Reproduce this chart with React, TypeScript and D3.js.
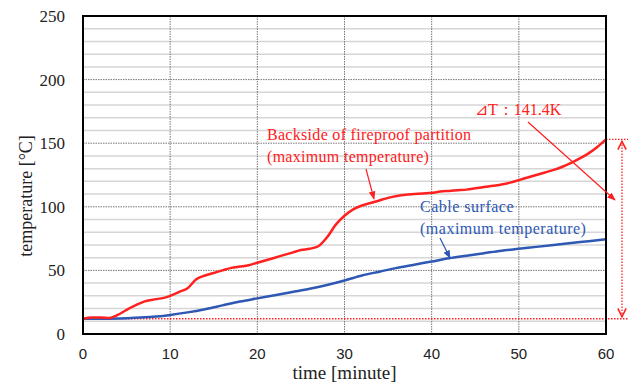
import React from "react";
import * as d3 from "d3";

const redTimes = [0,1,2,3,4,5,6,7,8,9,10,11,12,13,14,15,16,17,18,19,20,21,22,23,24,25,26,27,28,29,30,31,32,33,34,35,36,37,38,39,40,41,42,43,44,45,46,47,48,49,50,51,52,53,54,55,56,57,58,59,60];
const redValues = [12,13,13,12.5,15,19,22.5,25.5,27,28,30,33,36,43,46,48,50,52,53,54,56,58,60,62,64,66,67,69,76,86,93,98,101,103,105,107,108.5,109.5,110,110.5,111,112,112.5,113,113.5,114.5,115.5,116.5,117.5,119,121,123,125,127,129,131.5,134.5,138,142,147,153];
const blueTimes = [0,2,4,6,8,10,12,14,16,18,20,22,24,26,28,30,32,34,36,38,40,42,44,46,48,50,52,54,56,58,60];
const blueValues = [12,12,12.2,12.8,13.5,15,17,19.5,22.5,25.5,28,30.5,33,35.5,38.5,42,46,49,52,54.5,57,59.5,61.5,63.5,65.5,67,68.5,70,71.5,73,74.5];
const xTicks = [0,10,20,30,40,50,60];
const yTicks = [0,50,100,150,200,250];
const yMinor = [10,20,30,40,60,70,80,90,110,120,130,140,160,170,180,190,210,220,230,240];
const ambient = 12;
const peak = 153;
const redLabel = ["Backside of fireproof partition", "(maximum temperature)"];
const blueLabel = ["Cable surface", "(maximum temperature)"];
const deltaLabel = "⊿T：141.4K";

const W = 641, H = 387;
const L = 83, R = 606, T = 16, B = 334;
const RED = "#ff2020";
const BLUE = "#2e58b4";
const SERIF = "'Liberation Serif', 'Times New Roman', serif";
const SANS = "'Liberation Sans', Arial, sans-serif";

export default function App() {
  const x = d3.scaleLinear().domain([0, 60]).range([L, R]);
  const y = d3.scaleLinear().domain([0, 250]).range([B, T]);
  const line = d3.line<number>().curve(d3.curveMonotoneX);
  const redPath = line(redTimes.map((t, i) => [x(t), y(redValues[i])] as any) as any);
  const bluePath = line(blueTimes.map((t, i) => [x(t), y(blueValues[i])] as any) as any);
  const arrowX = R + 16;
  return (
    <svg width={W} height={H} style={{ position: "absolute", left: 0, top: 0, background: "#fff" }}>
      <defs>
        <marker id="redHead" viewBox="0 0 10 10" refX="9" refY="5" markerWidth="7" markerHeight="7" orient="auto">
          <path d="M0,1 L10,5 L0,9 Z" fill={RED} />
        </marker>
        <marker id="blueHead" viewBox="0 0 10 10" refX="9" refY="5" markerWidth="7" markerHeight="7" orient="auto">
          <path d="M0,1 L10,5 L0,9 Z" fill={BLUE} />
        </marker>
        <marker id="openHead" viewBox="0 0 10 10" refX="9" refY="5" markerWidth="8" markerHeight="8" orient="auto-start-reverse">
          <path d="M1,1 L9,5 L1,9" fill="none" stroke={RED} strokeWidth="1.5" />
        </marker>
      </defs>
      {yMinor.map((v) => (
        <line key={"m" + v} x1={L} x2={R} y1={y(v)} y2={y(v)} stroke="#d6d6d6" strokeWidth={1.5} />
      ))}
      {yTicks.slice(1, -1).map((v) => (
        <line key={"h" + v} x1={L} x2={R} y1={y(v)} y2={y(v)} stroke="#555" strokeWidth={0.8} strokeDasharray="1.5,1" />
      ))}
      {xTicks.slice(1, -1).map((v) => (
        <line key={"v" + v} x1={x(v)} x2={x(v)} y1={T} y2={B} stroke="#555" strokeWidth={0.8} strokeDasharray="1.5,1" />
      ))}
      <line x1={L} x2={arrowX + 6} y1={y(ambient)} y2={y(ambient)} stroke={RED} strokeWidth={1.3} strokeDasharray="1.5,1.5" />
      <line x1={R} x2={arrowX + 6} y1={y(peak)} y2={y(peak)} stroke={RED} strokeWidth={1.3} strokeDasharray="1.5,1.5" />
      <line x1={arrowX} x2={arrowX} y1={y(peak) + 2} y2={y(ambient) - 2} stroke={RED} strokeWidth={1.3} strokeDasharray="1.5,1.5" markerStart="url(#openHead)" markerEnd="url(#openHead)" />
      <path d={bluePath || ""} fill="none" stroke={BLUE} strokeWidth={2.5} />
      <path d={redPath || ""} fill="none" stroke={RED} strokeWidth={2.5} />
      <rect x={L} y={T} width={R - L} height={B - T} fill="none" stroke="#000" strokeWidth={2} />
      {yTicks.map((v) => (
        <text key={"yt" + v} x={L - 18} y={y(v) + 6} textAnchor="end" fontFamily={SERIF} fontSize={17} fill="#222">{v}</text>
      ))}
      {xTicks.map((v) => (
        <text key={"xt" + v} x={x(v)} y={359} textAnchor="middle" fontFamily={SANS} fontSize={15} fill="#222">{v}</text>
      ))}
      <text x={(L + R) / 2} y={379} textAnchor="middle" fontFamily={SERIF} fontSize={19} fill="#222">time [minute]</text>
      <text transform={`translate(32,196) rotate(-90)`} textAnchor="middle" fontFamily={SERIF} fontSize={18} fill="#222">temperature [°C]</text>
      <text fontFamily={SERIF} fontSize={16} letterSpacing={0.3} fill={RED}>
        <tspan x={267} y={140}>{redLabel[0]}</tspan>
        <tspan x={267} y={162}>{redLabel[1]}</tspan>
      </text>
      <line x1={366} y1={169} x2={374} y2={199} stroke={RED} strokeWidth={1.2} markerEnd="url(#redHead)" />
      <text fontFamily={SERIF} fontSize={16} letterSpacing={0.5} fill={BLUE}>
        <tspan x={420} y={212}>{blueLabel[0]}</tspan>
        <tspan x={420} y={234}>{blueLabel[1]}</tspan>
      </text>
      <line x1={440} y1={238} x2={450} y2={258} stroke={BLUE} strokeWidth={1.2} markerEnd="url(#blueHead)" />
      <text x={475} y={115} fontFamily={SERIF} fontSize={16} fill={RED}>{deltaLabel}</text>
      <line x1={528} y1={122} x2={615} y2={200} stroke={RED} strokeWidth={1.2} markerEnd="url(#redHead)" />
    </svg>
  );
}
